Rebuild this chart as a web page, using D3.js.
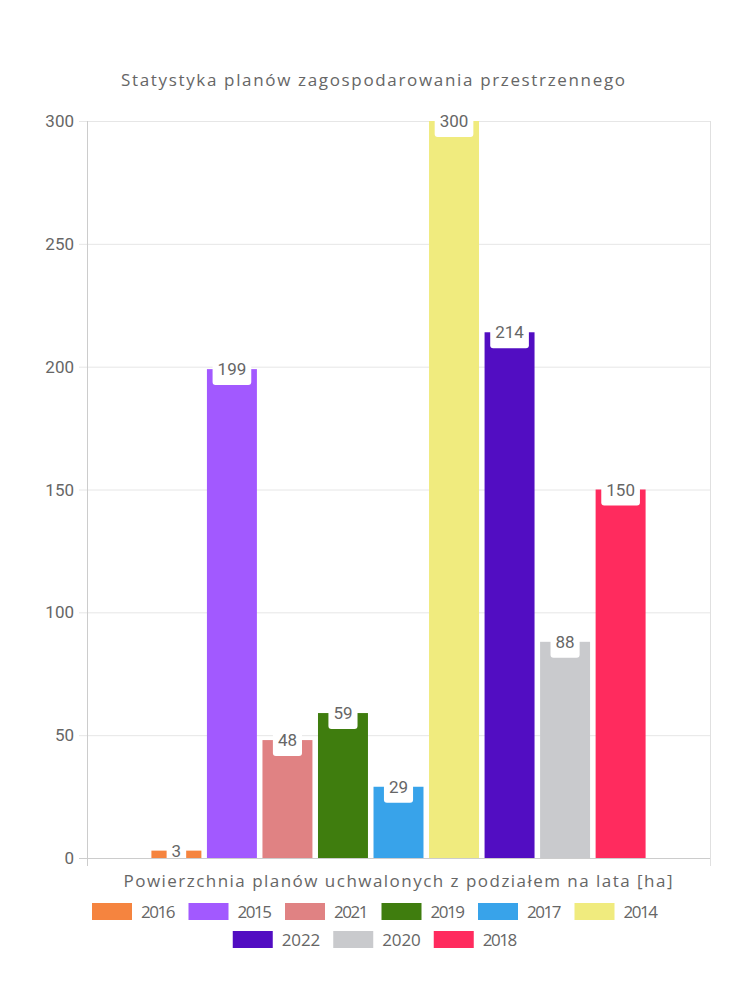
<!doctype html>
<html lang="en">
<head>
  <meta charset="utf-8">
  <script src="https://d3js.org/d3.v7.min.js"></script>
  <style>
    body { margin: 0; background: #fff; }
    text { fill: #666; }
    .round { font-family: "Open Sans", sans-serif; }
    .num { font-family: Roboto, sans-serif; }
  </style>
</head>
<body>
  <script>
    // chart data
    var years = ["2016", "2015", "2021", "2019", "2017", "2014", "2022", "2020", "2018"];
    var values = [3, 199, 48, 59, 29, 300, 214, 88, 150];
    var colors = ["#f5843f", "#a259ff", "#e08283", "#3f7d0e", "#38a3ea", "#f0eb7e", "#520dc2", "#c9cacd", "#ff2b5e"];
    var yTicks = [0, 50, 100, 150, 200, 250, 300];

    var width = 750,
        height = 1000;

    var plotLeft = 87, plotRight = 710, plotTop = 121, plotBottom = 858;

    var svg = d3.select("body")
                .append("svg")
                .attr("width", width)
                .attr("height", height);

    var x = d3.scaleBand()
              .domain(years)
              .range([plotLeft, plotRight])
              .paddingInner(0.1)
              .paddingOuter(1.16);

    var y = d3.scaleLinear()
              .domain([0, 300])
              .range([plotBottom, plotTop]);

    // title
    svg.append("text")
        .attr("class", "round")
        .attr("x", 373)
        .attr("y", 86)
        .attr("text-anchor", "middle")
        .attr("textLength", 504)
        .style("font-size", "17px")
        .text("Statystyka planów zagospodarowania przestrzennego");

    // grid lines
    svg.append("g").selectAll("line")
        .data(yTicks)
      .enter().append("line")
        .attr("x1", plotLeft - 8)
        .attr("x2", plotRight)
        .attr("y1", function(d) { return y(d) + 0.5; })
        .attr("y2", function(d) { return y(d) + 0.5; })
        .style("stroke", function(d) { return d === 0 ? "#ccc" : "#e6e6e6"; });

    // y tick labels
    svg.append("g").selectAll("text")
        .data(yTicks)
      .enter().append("text")
        .attr("class", "num")
        .attr("x", 74)
        .attr("y", function(d) { return y(d) + 6; })
        .attr("text-anchor", "end")
        .style("font-size", "17px")
        .text(function(d) { return d; });

    // bars
    svg.append("g").selectAll("rect")
        .data(values)
      .enter().append("rect")
        .attr("x", function(d, i) { return x(years[i]); })
        .attr("y", function(d) { return y(d); })
        .attr("width", x.bandwidth())
        .attr("height", function(d) { return plotBottom - y(d); })
        .style("fill", function(d, i) { return colors[i]; });

    // value labels (white tag under the number)
    var labels = svg.append("g").selectAll("g")
        .data(values)
      .enter().append("g")
        .attr("transform", function(d, i) {
          return "translate(" + (x(years[i]) + x.bandwidth() / 2) + "," + y(d) + ")";
        });

    labels.append("text")
        .attr("class", "num")
        .attr("text-anchor", "middle")
        .attr("y", 6)
        .style("font-size", "17px")
        .text(function(d) { return d; });

    labels.each(function() {
      var g = d3.select(this);
      var w = g.select("text").node().getComputedTextLength() + 10;
      g.insert("path", "text")
        .attr("d", "M" + (-w / 2) + ",-14 H" + (w / 2) + " V13 q0,3 -3,3 H" + (-w / 2 + 3) + " q-3,0 -3,-3 Z")
        .style("fill", "#fff");
    });

    // axis lines on top
    svg.append("line")
        .attr("x1", plotLeft + 0.5).attr("x2", plotLeft + 0.5)
        .attr("y1", plotTop).attr("y2", plotBottom + 8)
        .style("stroke", "#ccc");
    svg.append("line")
        .attr("x1", plotRight + 0.5).attr("x2", plotRight + 0.5)
        .attr("y1", plotTop).attr("y2", plotBottom + 8)
        .style("stroke", "#e0e0e0");
    svg.append("line")
        .attr("x1", plotLeft).attr("x2", plotRight)
        .attr("y1", plotBottom + 0.5).attr("y2", plotBottom + 0.5)
        .style("stroke", "#ccc");

    // x axis title
    svg.append("text")
        .attr("class", "round")
        .attr("x", 398)
        .attr("y", 887)
        .attr("text-anchor", "middle")
        .attr("textLength", 549)
        .style("font-size", "17px")
        .text("Powierzchnia planów uchwalonych z podziałem na lata [ha]");

    // legend - the "1" digit is narrow in the original font
    function labelWidth(s) {
      return 38.5 - 4 * (s.split("1").length - 1);
    }

    var rows = [years.slice(0, 6), years.slice(6)];
    rows.forEach(function(row, r) {
      var g = svg.append("g");
      var cx = 0;
      row.forEach(function(yr) {
        var i = years.indexOf(yr);
        var tw = labelWidth(yr);
        g.append("rect")
          .attr("x", cx)
          .attr("y", -9)
          .attr("width", 40)
          .attr("height", 17)
          .style("fill", colors[i]);
        g.append("text")
          .attr("class", "round")
          .attr("x", cx + 49)
          .attr("y", 6)
          .attr("textLength", tw)
          .style("font-size", "17px")
          .text(yr);
        cx += 49 + tw + 13;
      });
      var w = cx - 13;
      g.attr("transform", "translate(" + (375 - w / 2) + "," + (912 + r * 28) + ")");
    });
  </script>
</body>
</html>
